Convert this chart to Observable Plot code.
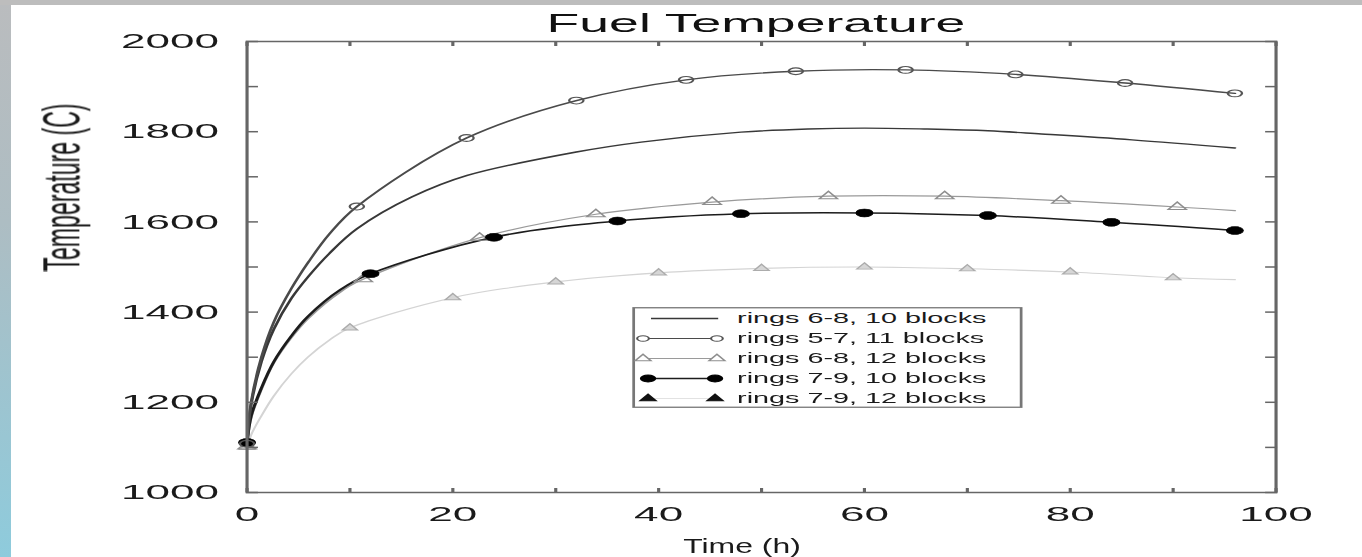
<!DOCTYPE html>
<html>
<head>
<meta charset="utf-8">
<script src="https://cdn.jsdelivr.net/npm/d3@7"></script>
<script src="https://cdn.jsdelivr.net/npm/@observablehq/plot@0.6"></script>
<style>
  html, body { margin: 0; padding: 0; background: #fff; overflow: hidden; width: 1362px; height: 557px; }
  #topbar { position: absolute; left: 0; top: 0; width: 1362px; height: 5px; background: #bdbdbd; z-index: 3; }
  #strip { position: absolute; left: 0; top: 0; width: 11px; height: 557px; z-index: 2;
           background: linear-gradient(to bottom, #babcbe 0%, #adbdc3 40%, #8ecbdc 100%); }
  #chart { position: absolute; left: 0; top: 0; width: 649px; height: 557px;
           transform: scaleX(2.1); transform-origin: 0 0; }
  #title { position: absolute; left: 0; top: 11px; width: 720px; text-align: center;
           font: 25.5px/25.5px "Liberation Sans", Arial, sans-serif; color: #111; white-space: nowrap; }
  #plotwrap { position: absolute; left: 0; top: 31px; }
</style>
</head>
<body>
<div id="topbar"></div>
<div id="strip"></div>
<div id="chart">
  <div id="title">Fuel Temperature</div>
  <div id="plotwrap"></div>
</div>
<script>
// ---- tick values ----
const xLabelTicks = [0, 20, 40, 60, 80, 100];
const xMinorTicks = [0, 10, 20, 30, 40, 50, 60, 70, 80, 90, 100];
const yLabelTicks = [1000, 1200, 1400, 1600, 1800, 2000];
const yMinorTicks = [1000, 1100, 1200, 1300, 1400, 1500, 1600, 1700, 1800, 1900, 2000];

// ---- series names ----
const seriesNames = [
  "rings 6-8, 10 blocks",
  "rings 5-7, 11 blocks",
  "rings 6-8, 12 blocks",
  "rings 7-9, 10 blocks",
  "rings 7-9, 12 blocks"
];

// rings 6-8, 10 blocks (plain line)
const t68_10 = [0, 0.4, 1.4, 2.6, 4.3, 6, 8, 10.7, 16, 21.4, 32, 38.3, 48, 54.5, 60, 65.8, 72, 77.2, 86, 96];
const v68_10 = [1110, 1195, 1290, 1362, 1430, 1480, 1530, 1585, 1655, 1703, 1755, 1777, 1799, 1806, 1808, 1806, 1802, 1795, 1782, 1764];

// rings 5-7, 11 blocks (open circles)
const t57_11 = [0, 0.4, 1.4, 2.6, 4.3, 6, 8, 10.67, 21.33, 32, 42.67, 53.33, 64, 74.67, 85.33, 96];
const v57_11 = [1108, 1200, 1300, 1378, 1452, 1512, 1573, 1634, 1786, 1869, 1915, 1934, 1937, 1927, 1908, 1885];
const m57_11 = [0, 10.67, 21.33, 32, 42.67, 53.33, 64, 74.67, 85.33, 96];

// rings 6-8, 12 blocks (open triangles)
const t68_12 = [0, 0.4, 1.4, 2.6, 4.3, 5.9, 9.1, 11.3, 22.6, 33.9, 45.2, 56.5, 67.8, 79.1, 90.4, 96];
const v68_12 = [1102, 1165, 1228, 1287, 1343, 1385, 1445, 1473, 1565, 1617, 1644, 1657, 1657, 1647, 1633, 1625];
const m68_12 = [0, 11.3, 22.6, 33.9, 45.2, 56.5, 67.8, 79.1, 90.4];

// rings 7-9, 10 blocks (filled circles)
const t79_10 = [0, 0.4, 1.4, 2.6, 4.3, 5.9, 9.1, 12, 24, 36, 48, 60, 72, 84, 96];
const v79_10 = [1111, 1170, 1232, 1290, 1347, 1390, 1450, 1485, 1566, 1602, 1618, 1620, 1614, 1599, 1581];
const m79_10 = [0, 12, 24, 36, 48, 60, 72, 84, 96];

// rings 7-9, 12 blocks (filled triangles)
const t79_12 = [0, 0.4, 1.4, 2.6, 4.3, 5.9, 8, 10, 20, 30, 40, 50, 60, 70, 80, 90, 96];
const v79_12 = [1100, 1128, 1170, 1214, 1263, 1300, 1338, 1365, 1432, 1467, 1487, 1497, 1500, 1496, 1489, 1476, 1472];
const m79_12 = [0, 10, 20, 30, 40, 50, 60, 70, 80, 90];

// ---- build tables ----
const rows = (name, T, V) => T.map((t, i) => ({series: name, t, v: V[i]}));
const marks = (name, T, V, M) => M.map(m => ({series: name, t: m, v: V[T.indexOf(m)]}));

const L1 = rows(seriesNames[0], t68_10, v68_10);
const L2 = rows(seriesNames[1], t57_11, v57_11);
const L3 = rows(seriesNames[2], t68_12, v68_12);
const L4 = rows(seriesNames[3], t79_10, v79_10);
const L5 = rows(seriesNames[4], t79_12, v79_12);
const M2 = marks(seriesNames[1], t57_11, v57_11, m57_11);
const M3 = marks(seriesNames[2], t68_12, v68_12, m68_12);
const M4 = marks(seriesNames[3], t79_10, v79_10, m79_10);
const M5 = marks(seriesNames[4], t79_12, v79_12, m79_12);

const frameCol = "#666";
const curve = "catmull-rom";

const chart = Plot.plot({
  width: 649,
  height: 526,
  marginTop: 10,
  marginBottom: 65,
  marginLeft: 117.14,
  marginRight: 41.86,
  x: {domain: [0, 100], axis: null},
  y: {domain: [1000, 2000], axis: null},
  style: {fontFamily: "'Liberation Sans', Arial, sans-serif", fontSize: "21px", color: "#1a1a1a", background: "transparent", overflow: "visible"},
  marks: [
    // lines
    Plot.line(L5, {x: "t", y: "v", stroke: "#d4d4d4", strokeWidth: 1.1, curve}),
    Plot.line(L3, {x: "t", y: "v", stroke: "#9a9a9a", strokeWidth: 1.2, curve}),
    Plot.line(L4, {x: "t", y: "v", stroke: "#1c1c1c", strokeWidth: 1.5, curve}),
    Plot.line(L1, {x: "t", y: "v", stroke: "#383838", strokeWidth: 1.4, curve}),
    Plot.line(L2, {x: "t", y: "v", stroke: "#4a4a4a", strokeWidth: 1.4, curve}),
    // markers
    Plot.dot(M5, {x: "t", y: "v", symbol: "triangle", r: 2.7, fill: "#d6d6d6", stroke: "#acacac", strokeWidth: 0.9}),
    Plot.dot(M3, {x: "t", y: "v", symbol: "triangle", r: 3.2, fill: "none", stroke: "#8e8e8e", strokeWidth: 1}),
    Plot.dot(M4, {x: "t", y: "v", symbol: "circle", r: 4, fill: "#000", stroke: "#000", strokeWidth: 0.5}),
    Plot.dot(M2, {x: "t", y: "v", symbol: "circle", r: 3.4, fill: "none", stroke: "#555", strokeWidth: 1.1}),
    // frame and inward ticks
    Plot.frame({stroke: frameCol, strokeWidth: 1.5}),
    Plot.axisX(xMinorTicks, {anchor: "bottom", tickSize: 4, dy: -4, fill: "none", stroke: frameCol, strokeWidth: 1.5, label: null}),
    Plot.axisX(xMinorTicks, {anchor: "top", tickSize: 4, dy: 4, fill: "none", stroke: frameCol, strokeWidth: 1.5, label: null}),
    Plot.axisY(yMinorTicks, {anchor: "left", tickSize: 5.7, dx: 5.7, fill: "none", stroke: frameCol, strokeWidth: 1.5, label: null}),
    Plot.axisY(yMinorTicks, {anchor: "right", tickSize: 5.7, dx: -5.7, fill: "none", stroke: frameCol, strokeWidth: 1.5, label: null}),
    // tick labels
    Plot.axisX(xLabelTicks, {anchor: "bottom", tickSize: 0, tickPadding: 14, fill: "#1a1a1a", label: null, fontSize: 21, tickFormat: d => String(d)}),
    Plot.axisY(yLabelTicks, {anchor: "left", tickSize: 0, tickPadding: 13.3, fill: "#1a1a1a", label: null, fontSize: 21, tickFormat: d => String(d)}),
    // axis titles
    Plot.text(["Time (h)"], {frameAnchor: "bottom", text: d => d, dx: -9.3, dy: 60, lineAnchor: "bottom", fontSize: 21, fill: "#1a1a1a"}),
    Plot.text(["Temperature (C)"], {frameAnchor: "left", text: d => d, rotate: -90, dx: -87.8, dy: 4.5, lineAnchor: "middle", fontSize: 24.5, fill: "#1a1a1a"})
  ]
});
document.getElementById("plotwrap").appendChild(chart);

// narrow the axis titles like the reference
d3.select(chart).selectAll("text").each(function () {
  if (this.textContent === "Temperature (C)") {
    this.setAttribute("textLength", 168);
    this.setAttribute("lengthAdjust", "spacingAndGlyphs");
  }
  if (this.textContent === "Time (h)") {
    this.setAttribute("textLength", 56);
    this.setAttribute("lengthAdjust", "spacingAndGlyphs");
  }
});

// ---- legend box (inside plot area) ----
const legend = d3.create("svg")
  .attr("width", 187).attr("height", 102)
  .style("position", "absolute").style("left", "301px").style("top", "306.5px")
  .style("overflow", "visible");
legend.append("rect").attr("x", 0.75).attr("y", 0.75).attr("width", 184.5).attr("height", 99.5)
  .attr("fill", "#fff").attr("stroke", "#777").attr("stroke-width", 1.3);

const legendStyles = [
  {line: "#383838", lw: 1.4, x1: 9, x2: 41, sym: null},
  {line: "#4a4a4a", lw: 1.2, x1: 5.2, x2: 40.4, sym: "circle", r: 2.8, fill: "#fff", stroke: "#555"},
  {line: "#9a9a9a", lw: 1.1, x1: 5.2, x2: 40.4, sym: "triangle", r: 2.8, fill: "#fff", stroke: "#8e8e8e"},
  {line: "#1c1c1c", lw: 1.4, x1: 7.6, x2: 39.5, sym: "circle", r: 3.4, fill: "#000", stroke: "#000"},
  {line: "#e2e2e2", lw: 1, x1: 7.6, x2: 39.5, sym: "triangle", r: 2.8, fill: "#111", stroke: "#111"}
];
seriesNames.forEach((name, i) => {
  const s = legendStyles[i];
  const y = 11.5 + i * 20;
  const g = legend.append("g");
  g.append("line").attr("x1", s.x1).attr("x2", s.x2).attr("y1", y).attr("y2", y)
    .attr("stroke", s.line).attr("stroke-width", s.lw);
  if (s.sym) {
    const type = s.sym === "circle" ? d3.symbolCircle : d3.symbolTriangle;
    const path = d3.symbol(type, Math.PI * s.r * s.r)();
    [s.x1, s.x2].forEach(x => g.append("path").attr("d", path)
      .attr("transform", `translate(${x},${y})`)
      .attr("fill", s.fill).attr("stroke", s.stroke).attr("stroke-width", 1));
  }
  g.append("text").attr("x", 50).attr("y", y).attr("dy", "0.36em")
    .attr("font-family", "'Liberation Sans', Arial, sans-serif").attr("font-size", 13.7)
    .attr("fill", "#1a1a1a").text(name);
});
document.getElementById("chart").appendChild(legend.node());
</script>
</body>
</html>
